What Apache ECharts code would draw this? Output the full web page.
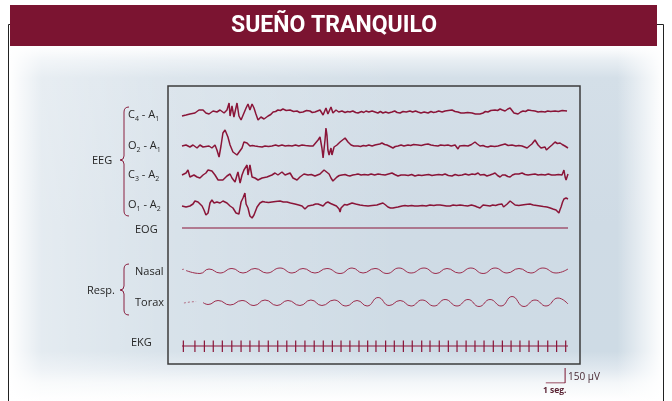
<!DOCTYPE html>
<html>
<head>
<meta charset="utf-8">
<script src="https://cdn.jsdelivr.net/npm/echarts@6/dist/echarts.min.js"></script>
<style>
html,body{margin:0;padding:0;background:#fff}
#chart{width:672px;height:401px}
</style>
</head>
<body>
<div id="chart"></div>
<script>
var c4a1 = [[0,-40],[0.21,-30],[0.41,-20],[0.67,-10],[0.88,20],[1.09,20],[1.24,-10],[1.40,-20],[1.61,10],[1.81,0],[1.97,20],[2.18,-10],[2.33,20],[2.44,90],[2.49,-40],[2.59,60],[2.69,-50],[2.85,90],[2.95,-40],[3.06,-80],[3.16,-60],[3.32,40],[3.42,80],[3.52,20],[3.63,80],[3.73,40],[3.83,-20],[3.94,-80],[4.09,-50],[4.25,-70],[4.46,-40],[4.60,-25],[4.72,0],[4.85,5],[4.97,20],[5.10,15],[5.23,30],[5.40,15],[5.60,20],[5.78,5],[5.96,10],[6.10,-5],[6.27,0],[6.45,15],[6.63,10],[6.75,-5],[6.89,0],[7.02,10],[7.15,20],[7.31,-30],[7.46,40],[7.56,-20],[7.72,50],[7.82,-10],[7.98,20],[8.12,0],[8.29,10],[8.45,-5],[8.58,5],[8.70,0],[8.85,10],[9.00,-5],[9.12,-10],[9.30,5],[9.42,-5],[9.53,10],[9.68,0],[9.85,10],[10.00,0],[10.15,-10],[10.28,5],[10.41,-10],[10.55,0],[10.70,-10],[10.88,0],[11.02,10],[11.15,-5],[11.30,-10],[11.45,5],[11.62,0],[11.81,10],[11.95,0],[12.10,10],[12.23,0],[12.38,-10],[12.55,0],[12.75,-10],[12.90,5],[13.03,-5],[13.16,0],[13.30,10],[13.48,0],[13.63,10],[13.80,15],[13.99,20],[14.15,5],[14.30,0],[14.45,-10],[14.61,-10],[14.80,-5],[15.03,-10],[15.20,-20],[15.30,-10],[15.44,-20],[15.60,-10],[15.72,5],[15.85,0],[16.00,15],[16.10,10],[16.22,20],[16.35,15],[16.48,30],[16.60,20],[16.74,10],[16.88,30],[17.00,40],[17.10,20],[17.20,-10],[17.30,-5],[17.41,-20],[17.55,0],[17.67,10],[17.80,5],[17.93,20],[18.10,15],[18.29,10],[18.45,0],[18.62,5],[18.81,0],[18.95,10],[19.10,5],[19.33,10],[19.50,5],[19.70,15],[19.95,10]];
var o2a1 = [[0,0],[0.21,10],[0.41,-10],[0.57,10],[0.78,-20],[0.93,10],[1.09,-10],[1.19,10],[1.40,0],[1.55,-20],[1.71,10],[1.81,-40],[1.92,-110],[2.02,0],[2.12,130],[2.23,160],[2.38,90],[2.49,10],[2.64,-60],[2.85,-90],[2.95,-80],[3.11,-20],[3.21,40],[3.37,30],[3.52,0],[3.65,5],[3.78,0],[3.95,-5],[4.15,-10],[4.30,0],[4.48,-5],[4.66,0],[4.85,10],[5.00,0],[5.18,10],[5.35,0],[5.52,5],[5.70,0],[5.88,10],[6.05,0],[6.22,10],[6.40,5],[6.63,0],[6.79,0],[7.05,60],[7.15,90],[7.25,-20],[7.31,-120],[7.41,60],[7.46,180],[7.51,110],[7.56,-40],[7.62,-90],[7.72,-20],[7.77,-90],[7.88,-10],[8.03,10],[8.19,40],[8.45,80],[8.60,40],[8.76,10],[8.90,0],[9.00,10],[9.12,0],[9.25,-5],[9.40,5],[9.53,0],[9.68,10],[9.85,0],[10.00,10],[10.12,15],[10.25,20],[10.36,30],[10.50,15],[10.62,10],[10.78,-5],[10.93,-20],[11.05,-5],[11.19,0],[11.35,10],[11.50,0],[11.71,10],[11.85,5],[12.00,15],[12.23,10],[12.40,5],[12.58,15],[12.75,20],[12.90,10],[13.05,5],[13.26,0],[13.40,10],[13.60,5],[13.78,10],[13.95,0],[14.15,10],[14.24,5],[14.30,-30],[14.38,0],[14.46,10],[14.62,5],[14.82,0],[15.00,15],[15.18,40],[15.30,20],[15.44,0],[15.60,5],[15.72,-5],[15.85,-10],[16.00,0],[16.20,-5],[16.37,0],[16.55,10],[16.74,20],[16.90,5],[17.10,10],[17.30,0],[17.45,5],[17.62,0],[17.75,-10],[17.88,-20],[18.00,0],[18.13,20],[18.22,40],[18.29,60],[18.37,40],[18.45,10],[18.52,-10],[18.60,-20],[18.70,-5],[18.81,-10],[18.88,-40],[18.96,-30],[19.05,-10],[19.17,10],[19.25,25],[19.33,40],[19.45,25],[19.59,30],[19.70,15],[19.84,0],[20.00,-20]];
var c3a2 = [[0,0],[0.21,20],[0.31,50],[0.41,-20],[0.62,0],[0.78,-20],[0.93,-30],[1.09,0],[1.24,20],[1.35,50],[1.45,70],[1.55,40],[1.71,0],[1.87,-50],[1.97,-70],[2.12,-50],[2.33,-10],[2.49,10],[2.59,-30],[2.75,-70],[2.85,0],[2.90,30],[3.01,-80],[3.11,0],[3.21,50],[3.37,100],[3.42,0],[3.52,100],[3.63,-20],[3.78,-30],[3.94,-50],[4.15,-30],[4.40,-20],[4.66,0],[4.82,20],[4.97,0],[5.18,30],[5.34,0],[5.60,20],[5.75,-30],[5.96,-50],[6.11,-20],[6.32,10],[6.53,0],[6.70,5],[6.89,-10],[7.15,10],[7.36,50],[7.46,70],[7.62,10],[7.72,-30],[7.82,-60],[8.03,-20],[8.15,-5],[8.29,0],[8.45,5],[8.58,-5],[8.70,-10],[8.85,0],[9.00,5],[9.12,10],[9.28,0],[9.45,5],[9.64,0],[9.80,10],[9.98,0],[10.16,10],[10.32,5],[10.52,0],[10.70,10],[10.88,20],[11.02,5],[11.19,-10],[11.35,0],[11.55,0],[11.72,-5],[11.90,5],[12.07,-10],[12.25,0],[12.42,-5],[12.59,0],[12.78,5],[12.95,-5],[13.11,0],[13.30,5],[13.48,0],[13.63,10],[13.80,-5],[13.99,-10],[14.15,5],[14.32,-5],[14.51,0],[14.68,10],[14.85,0],[15.03,10],[15.18,5],[15.34,20],[15.45,0],[15.54,-10],[15.65,5],[15.80,-10],[15.96,0],[16.10,10],[16.22,20],[16.35,-5],[16.48,-20],[16.60,0],[16.74,0],[16.88,-15],[17.00,-20],[17.12,0],[17.26,10],[17.45,10],[17.62,20],[17.78,5],[17.93,0],[18.10,5],[18.29,10],[18.45,0],[18.62,5],[18.81,0],[18.98,10],[19.15,0],[19.33,0],[19.50,5],[19.69,0],[19.79,50],[19.85,-20],[19.90,-50],[20.00,10]];
var o1a2 = [[0,0],[0.21,-10],[0.41,0],[0.57,20],[0.67,50],[0.83,40],[0.93,50],[1.04,0],[1.14,-40],[1.24,-90],[1.35,-70],[1.45,30],[1.55,60],[1.66,30],[1.81,40],[1.97,30],[2.12,50],[2.33,30],[2.49,0],[2.64,-20],[2.80,-70],[2.90,-50],[2.95,-80],[3.06,40],[3.16,80],[3.26,130],[3.32,20],[3.42,-20],[3.52,-100],[3.63,-120],[3.73,-90],[3.89,-10],[4.04,30],[4.18,45],[4.30,40],[4.48,35],[4.66,40],[4.85,45],[5.08,50],[5.25,40],[5.44,40],[5.62,30],[5.85,20],[6.05,10],[6.22,0],[6.30,-10],[6.37,-30],[6.45,-10],[6.53,0],[6.65,5],[6.79,10],[6.92,20],[7.05,20],[7.18,10],[7.31,0],[7.45,30],[7.56,40],[7.70,25],[7.88,10],[8.00,0],[8.08,-10],[8.14,-30],[8.19,-60],[8.24,-20],[8.29,0],[8.42,15],[8.55,10],[8.68,20],[8.81,30],[9.00,20],[9.22,10],[9.40,5],[9.64,0],[9.85,5],[10.10,10],[10.25,20],[10.41,30],[10.55,10],[10.67,-10],[10.80,-20],[10.93,-20],[11.05,-15],[11.19,-10],[11.40,0],[11.55,5],[11.71,0],[11.90,5],[12.05,0],[12.23,0],[12.45,5],[12.65,0],[12.85,10],[13.05,5],[13.20,10],[13.37,10],[13.55,5],[13.70,0],[13.89,0],[14.05,10],[14.22,5],[14.41,10],[14.60,5],[14.80,0],[15.00,10],[15.18,0],[15.30,-10],[15.38,-30],[15.44,-20],[15.52,0],[15.60,10],[15.78,5],[15.96,0],[16.10,10],[16.25,5],[16.40,15],[16.58,20],[16.66,-10],[16.74,0],[16.85,20],[16.93,40],[17.00,50],[17.10,30],[17.26,10],[17.45,5],[17.62,10],[17.80,15],[18.03,20],[18.20,10],[18.38,5],[18.55,0],[18.72,-5],[18.91,-10],[19.08,-20],[19.22,-30],[19.38,-40],[19.53,-70],[19.58,-40],[19.64,-10],[19.72,40],[19.79,70],[19.90,80],[20.00,70]];
var eog = [[0,0],[20,0]];
var nasalStart = [[0,10],[0.16,15]];
var nasal = [[0.21,0],[0.93,-30],[1.40,15],[1.97,-25],[2.59,20],[3.16,-25],[3.78,20],[4.40,-25],[5.08,25],[5.70,-25],[6.27,20],[6.89,-25],[7.51,20],[8.19,-30],[8.81,25],[9.38,-25],[10.00,20],[10.62,-30],[11.24,25],[11.87,-25],[12.54,25],[13.16,-30],[13.73,20],[14.35,-25],[14.97,25],[15.60,-30],[16.22,25],[16.84,-25],[17.46,20],[18.08,-25],[18.70,25],[19.38,-25],[20.00,15]];
var toraxStart = [[0.10,0],[0.41,10],[0.73,15]];
var torax = [[1.09,5],[1.35,-15],[1.87,25],[2.49,-20],[3.11,25],[3.73,-25],[4.30,30],[4.92,-25],[5.49,25],[6.11,-25],[6.68,30],[7.25,-25],[7.88,30],[8.50,-30],[9.07,25],[9.59,-30],[10.16,55],[10.73,-25],[11.30,25],[11.87,-30],[12.44,30],[13.06,-30],[13.63,35],[14.25,-30],[14.82,35],[15.39,-35],[15.96,35],[16.53,-30],[17.10,65],[17.72,-35],[18.29,30],[18.86,-30],[19.48,50],[20.00,-10]];
var ekgBeats = [0.07,0.67,1.16,1.62,2.09,2.58,3.06,3.52,3.99,4.47,4.96,5.43,5.89,6.37,6.85,7.32,7.79,8.24,8.70,9.17,9.62,10.05,10.55,11.00,11.47,11.93,12.42,12.85,13.33,13.80,14.25,14.72,15.18,15.65,16.13,16.60,17.05,17.51,17.98,18.46,18.95,19.41,19.88];
var ekgR = 55, ekgS = -60;
var scaleSec = [18.85, 19.85], scaleUv = 150;

var red = '#8a1538';
var txt = '#262626';

// línea base de cada canal (px) -> un grid por canal
var lanes = [
    {data: c4a1, y: 112},
    {data: o2a1, y: 146},
    {data: c3a2, y: 175},
    {data: o1a2, y: 206},
    {data: eog, y: 228},
    {data: nasal, y: 270.5, resp: true, start: nasalStart},
    {data: torax, y: 303, resp: true, start: toraxStart},
    {data: null, y: 346, ekg: true}
];

var grids = [], xAxes = [], yAxes = [], series = [];
lanes.forEach(function (l, i) {
    grids.push({left: 182, width: 386, top: l.y - 30, height: 60});
    xAxes.push({type: 'value', gridIndex: i, min: 0, max: 20, show: false});
    yAxes.push({type: 'value', gridIndex: i, min: -300, max: 300, show: false});
    if (l.ekg) {
        series.push({type: 'line', xAxisIndex: i, yAxisIndex: i, data: [[0, 0], [20, 0]], symbol: 'none',
            lineStyle: {color: red, width: 1}});
        series.push({
            type: 'custom', xAxisIndex: i, yAxisIndex: i,
            data: ekgBeats.map(function (t) { return [t, ekgR, ekgS]; }),
            renderItem: function (params, api) {
                var a = api.coord([api.value(0), api.value(1)]);
                var b = api.coord([api.value(0), api.value(2)]);
                return {type: 'line', shape: {x1: a[0], y1: a[1], x2: b[0], y2: b[1]},
                    style: {stroke: red, lineWidth: 1.2}};
            }
        });
    } else if (l.resp) {
        series.push({type: 'line', xAxisIndex: i, yAxisIndex: i, data: l.start, symbol: 'none',
            lineStyle: {color: '#a8506a', width: 0.8, type: [2, 2]}});
        series.push({type: 'line', xAxisIndex: i, yAxisIndex: i, data: l.data, symbol: 'none',
            smooth: 0.5, lineStyle: {color: '#9c2c4c', width: 1}});
    } else {
        series.push({type: 'line', xAxisIndex: i, yAxisIndex: i, data: l.data, symbol: 'none',
            lineStyle: {color: red, width: i === 4 ? 1.2 : 1.5}});
    }
});

// barra de escala: 1 seg / 150 µV
grids.push({left: 182, width: 386, top: 368, height: 15});
xAxes.push({type: 'value', gridIndex: 8, min: 0, max: 20, show: false});
yAxes.push({type: 'value', gridIndex: 8, min: 0, max: 150, show: false});
series.push({type: 'line', xAxisIndex: 8, yAxisIndex: 8, symbol: 'none',
    data: [[scaleSec[0], 0], [scaleSec[1], 0], [scaleSec[1], scaleUv]],
    lineStyle: {color: '#7b1431', width: 1}});

var rich = {
    n: {fontSize: 11, fill: txt, fontFamily: 'Open Sans', lineHeight: 14},
    s: {fontSize: 7, fill: txt, fontFamily: 'Open Sans', lineHeight: 8, verticalAlign: 'bottom'}
};
function chLabel(a, b, c, d, y) {
    return {type: 'text', x: 128, y: y, style: {
        text: '{n|' + a + '}{s|' + b + '}{n| - ' + c + '}{s|' + d + '}',
        rich: rich, verticalAlign: 'middle'}};
}
function label(t, x, y) {
    return {type: 'text', x: x, y: y, style: {text: t, fontSize: 11, fontFamily: 'Open Sans',
        fill: txt, verticalAlign: 'middle'}};
}
// llave: dos tramos rectos y cuatro curvas
function brace(top, mid, bot) {
    var st = {stroke: '#8a2040', lineWidth: 1, fill: null};
    return {type: 'group', children: [
        {type: 'bezierCurve', shape: {x1: 129, y1: top, cpx1: 124, cpy1: top, x2: 124, y2: top + 5}, style: st},
        {type: 'line', shape: {x1: 124, y1: top + 5, x2: 124, y2: mid - 4}, style: st},
        {type: 'bezierCurve', shape: {x1: 124, y1: mid - 4, cpx1: 124, cpy1: mid, x2: 120, y2: mid}, style: st},
        {type: 'bezierCurve', shape: {x1: 120, y1: mid, cpx1: 124, cpy1: mid, x2: 124, y2: mid + 4}, style: st},
        {type: 'line', shape: {x1: 124, y1: mid + 4, x2: 124, y2: bot - 5}, style: st},
        {type: 'bezierCurve', shape: {x1: 124, y1: bot - 5, cpx1: 124, cpy1: bot, x2: 129, y2: bot}, style: st}
    ]};
}

var option = {
    animation: false,
    grid: grids,
    xAxis: xAxes,
    yAxis: yAxes,
    series: series,
    graphic: [
        {type: 'rect', z: -10, shape: {x: 9, y: 46, width: 654, height: 355}, style: {
            fill: new echarts.graphic.LinearGradient(0, 0, 0, 1, [
                {offset: 0, color: '#ffffff'}, {offset: 0.04, color: '#e8eef3'},
                {offset: 0.09, color: '#d4dfe8'}, {offset: 0.5, color: '#cfdbe5'},
                {offset: 0.86, color: '#cedbe5'}, {offset: 0.91, color: '#e0e8ef'},
                {offset: 0.95, color: '#f4f7f9'}, {offset: 1, color: '#ffffff'}])}},
        {type: 'rect', z: -9, shape: {x: 9, y: 46, width: 654, height: 355}, style: {
            fill: new echarts.graphic.LinearGradient(0, 0, 1, 0, [
                {offset: 0, color: 'rgba(255,255,255,1)'}, {offset: 0.05, color: 'rgba(255,255,255,0.45)'},
                {offset: 0.25, color: 'rgba(255,255,255,0.2)'}, {offset: 0.6, color: 'rgba(255,255,255,0)'},
                {offset: 0.93, color: 'rgba(255,255,255,0)'}, {offset: 1, color: 'rgba(255,255,255,1)'}])}},
        {type: 'polyline', shape: {points: [[11, 24.5], [8.5, 24.5], [8.5, 401]]},
            style: {stroke: '#222', lineWidth: 1, fill: null}},
        {type: 'polyline', shape: {points: [[656, 24.5], [663.5, 24.5], [663.5, 401]]},
            style: {stroke: '#222', lineWidth: 1, fill: null}},
        {type: 'rect', shape: {x: 10, y: 5, width: 647, height: 41}, style: {fill: '#7b1431'}},
        {type: 'text', x: 334, y: 26, style: {text: 'SUEÑO TRANQUILO', fill: '#fff',
            fontFamily: 'Roboto', fontWeight: 'bold', fontSize: 23, align: 'center', verticalAlign: 'middle'}},
        {type: 'rect', shape: {x: 168, y: 86, width: 412, height: 278},
            style: {fill: null, stroke: '#3c3c3c', lineWidth: 1.5}},
        chLabel('C', '4', 'A', '1', 115),
        chLabel('O', '2', 'A', '1', 146),
        chLabel('C', '3', 'A', '2', 175),
        chLabel('O', '1', 'A', '2', 205),
        label('EOG', 135, 230),
        label('EEG', 92, 161),
        brace(107, 160, 216),
        label('Nasal', 135, 272),
        label('Torax', 135, 303),
        label('Resp.', 87, 291),
        brace(264, 290, 315),
        label('EKG', 131, 343),
        {type: 'text', x: 568, y: 377, style: {text: '150 µV', fontSize: 10, fontFamily: 'Open Sans',
            fill: '#4a2a35', verticalAlign: 'middle'}},
        {type: 'text', x: 543, y: 391, style: {text: '1 seg.', fontSize: 8.5, fontWeight: 'bold',
            fontFamily: 'Open Sans', fill: '#5a2434', verticalAlign: 'middle'}}
    ]
};

var chart = echarts.init(document.getElementById('chart'));
chart.setOption(option);
</script>
</body>
</html>
